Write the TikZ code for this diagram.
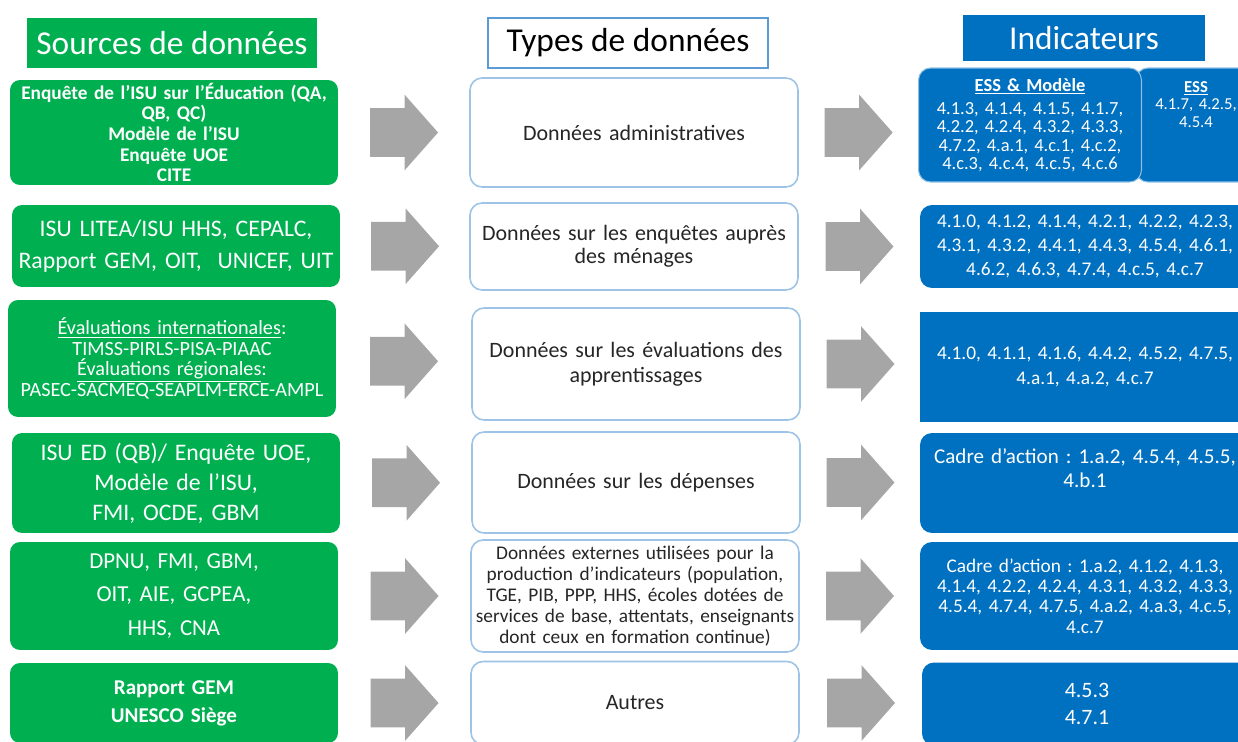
\documentclass[tikz,border=0pt]{standalone}
\usepackage{fontspec}
\setmainfont{Carlito}
\usetikzlibrary{shapes.arrows}
\definecolor{srcgreen}{HTML}{00B050}
\definecolor{indblue}{HTML}{0070C0}
\definecolor{typeline}{HTML}{9DC3E6}
\definecolor{headline}{HTML}{5B9BD5}
\definecolor{arrowgray}{HTML}{A6A6A6}
\definecolor{typetext}{HTML}{262626}
\newcommand{\fsz}[2]{\fontsize{#1}{#2}\selectfont}
\frenchspacing

\begin{document}
\begin{tikzpicture}[x=0.02cm,y=-0.02cm,
  src/.style={fill=srcgreen,text=white,rounded corners=0.2cm,minimum width=6.56cm,text width=6.4cm,align=center,inner sep=0pt},
  typ/.style={draw=typeline,line width=0.9pt,fill=white,text=typetext,rounded corners=0.24cm,minimum width=6.56cm,text width=6.45cm,align=center,inner sep=0pt},
  ind/.style={fill=indblue,text=white,rounded corners=0.24cm,minimum width=6.6cm,text width=6.4cm,align=center,inner sep=0pt},
  head/.style={minimum height=1cm,inner sep=0pt,font=\fsz{19}{22}},
  bigarrow/.style={single arrow,fill=arrowgray,minimum height=1.36cm,minimum width=1.5cm,single arrow head extend=0.27cm,single arrow tip angle=97,inner xsep=0pt,inner ysep=0.48cm,xshift=-0.21cm}]
\useasboundingbox (0,0) rectangle (1238,741);

\node[head,fill=srcgreen,text=white,minimum width=5.82cm] (hsrc) at (172,43) {Sources de données};
\node[head,draw=headline,line width=1pt,text=black,minimum width=5.6cm] (htyp) at (628,43) {Types de données};
\node[head,fill=indblue,text=white,minimum width=4.86cm,minimum height=0.94cm] (hind) at (1084,38) {Indicateurs};

\node[src,minimum height=2.1cm,font=\bfseries\fsz{11}{11.7}] (src1) at (174,132.5)
  {Enquête de l’ISU sur l’Éducation (QA,\\QB, QC)\\Modèle de l’ISU\\Enquête UOE\\CITE};
\node[src,minimum height=1.64cm,font=\fsz{13.5}{18}] (src2) at (176,246)
  {ISU LITEA/ISU HHS, CEPALC,\\Rapport GEM, OIT,\ \ UNICEF, UIT};
\node[src,minimum height=2.34cm,font=\fsz{11.5}{11.7}] (src3) at (172,358.5)
  {\underline{Évaluations internationales}:\\TIMSS-PIRLS-PISA-PIAAC\\\underline{Évaluations régionales}:\\PASEC-SACMEQ-SEAPLM-ERCE-AMPL};
\node[src,minimum height=2cm,font=\fsz{13.5}{17}] (src4) at (176,483)
  {ISU ED (QB)/ Enquête UOE,\\Modèle de l’ISU,\\FMI, OCDE, GBM};
\node[src,minimum height=2.16cm,font=\fsz{13}{19}] (src5) at (174,596)
  {DPNU, FMI, GBM,\\OIT, AIE, GCPEA,\\HHS, CNA};
\node[src,minimum height=1.6cm,font=\bfseries\fsz{12}{16}] (src6) at (174,703)
  {Rapport GEM\\UNESCO Siège};

\node[typ,minimum height=2.18cm,font=\fsz{12.5}{14}] (type1) at (634,132.5) {Données administratives};
\node[typ,minimum height=1.74cm,font=\fsz{12.5}{13}] (type2) at (634,246.5)
  {Données sur les enquêtes auprès\\des ménages};
\node[typ,minimum height=2.24cm,font=\fsz{12.5}{14}] (type3) at (636,364)
  {Données sur les évaluations des\\apprentissages};
\node[typ,minimum height=2.02cm,font=\fsz{12.5}{14}] (type4) at (636,482.5) {Données sur les dépenses};
\node[typ,minimum height=2.24cm,font=\fsz{11}{12}] (type5) at (635,596)
  {Données externes utilisées pour la\\production d’indicateurs (population,\\TGE, PIB, PPP, HHS, écoles dotées de\\services de base, attentats, enseignants\\dont ceux en formation continue)};
\node[typ,minimum height=1.66cm,font=\fsz{12.5}{14}] (type6) at (635,703) {Autres};

\node[ind,draw=white!55!indblue,line width=0.6pt,minimum width=2.4cm,text width=1.9cm,minimum height=2.28cm,
  text height=0.48cm,text depth=1.8cm,font=\fsz{9.5}{10}] (ind1b) at (1196,125)
  {\textbf{\underline{ESS}}\\4.1.7, 4.2.5,\\4.5.4};
\node[ind,draw=white!55!indblue,line width=0.6pt,minimum width=4.46cm,text width=4.3cm,minimum height=2.28cm,
  font=\fsz{10.5}{10.4}] (ind1a) at (1030,125)
  {\textbf{\underline{ESS \& Modèle}}\\[3pt]4.1.3, 4.1.4, 4.1.5, 4.1.7,\\4.2.2, 4.2.4, 4.3.2, 4.3.3,\\4.7.2, 4.a.1, 4.c.1, 4.c.2,\\4.c.3, 4.c.4, 4.c.5, 4.c.6};
\node[ind,minimum height=1.66cm,font=\fsz{11}{13.6}] (ind2) at (1085,246.5)
  {4.1.0, 4.1.2, 4.1.4, 4.2.1, 4.2.2, 4.2.3,\\4.3.1, 4.3.2, 4.4.1, 4.4.3, 4.5.4, 4.6.1,\\4.6.2, 4.6.3, 4.7.4, 4.c.5, 4.c.7};
\node[ind,rounded corners=0pt,minimum height=2.2cm,font=\fsz{11}{14}] (ind3) at (1085,367)
  {4.1.0, 4.1.1, 4.1.6, 4.4.2, 4.5.2, 4.7.5,\\4.a.1, 4.a.2, 4.c.7};
\node[ind,minimum height=2cm,text height=0.6cm,text depth=1.4cm,font=\fsz{12}{14}] (ind4) at (1085,483)
  {Cadre d’action : 1.a.2, 4.5.4, 4.5.5,\\4.b.1};
\node[ind,minimum height=2.16cm,font=\fsz{11}{11.5}] (ind5) at (1085,596)
  {Cadre d’action : 1.a.2, 4.1.2, 4.1.3,\\4.1.4, 4.2.2, 4.2.4, 4.3.1, 4.3.2, 4.3.3,\\4.5.4, 4.7.4, 4.7.5, 4.a.2, 4.a.3, 4.c.5,\\4.c.7};
\node[ind,minimum height=1.66cm,font=\fsz{12.5}{15}] (ind6) at (1087,704) {4.5.3\\4.7.1};

\path (src1.east) -- (type1.west) node[midway,bigarrow] {};
\path (src2.east) -- (type2.west) node[midway,bigarrow] {};
\path (src3.east) -- (type3.west) node[midway,bigarrow] {};
\path (src4.east) -- (type4.west) node[midway,bigarrow] {};
\path (src5.east) -- (type5.west) node[midway,bigarrow] {};
\path (src6.east) -- (type6.west) node[midway,bigarrow] {};
\path (type1.east) -- (type1.east -| ind1a.west) node[midway,bigarrow] {};
\path (type2.east) -- (type2.east -| ind2.west) node[midway,bigarrow] {};
\path (type3.east) -- (type3.east -| ind3.west) node[midway,bigarrow] {};
\path (type4.east) -- (type4.east -| ind4.west) node[midway,bigarrow] {};
\path (type5.east) -- (type5.east -| ind5.west) node[midway,bigarrow] {};
\path (type6.east) -- (type6.east -| ind6.west) node[midway,bigarrow] {};
\end{tikzpicture}
\end{document}
